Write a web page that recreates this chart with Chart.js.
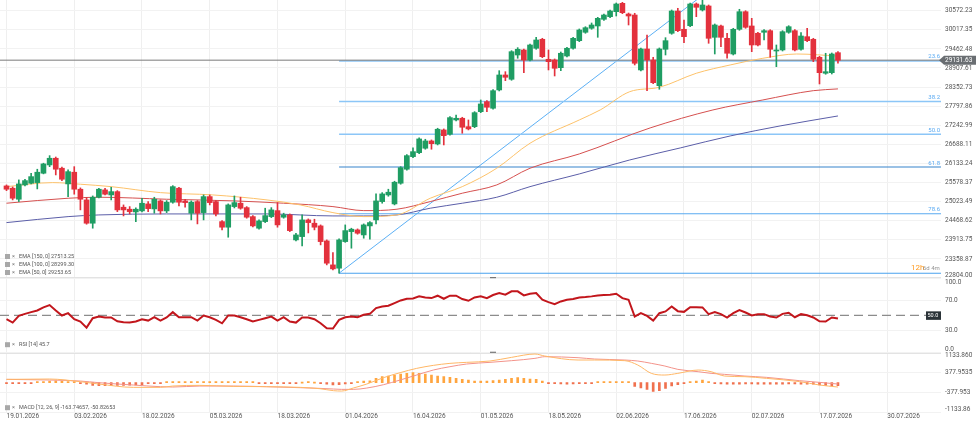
<!DOCTYPE html>
<html>
<head>
<meta charset="utf-8">
<title>Chart</title>
<script src="https://cdn.jsdelivr.net/npm/chart.js@4.4.1/dist/chart.umd.min.js"></script>
<style>
  html, body { margin: 0; padding: 0; background: #fff; }
  #wrap { position: relative; width: 977px; height: 431px; }
</style>
</head>
<body>
<div id="wrap"><canvas id="chart" width="977" height="431"></canvas></div>
<script>
// Date labels and the bar index each one sits on
const dateTicks = ['19.01.2026', '03.02.2026', '18.02.2026', '05.03.2026', '18.03.2026', '01.04.2026', '16.04.2026',
    '01.05.2026', '18.05.2026', '02.06.2026', '17.06.2026', '02.07.2026', '17.07.2026', '30.07.2026'];
const dateTickIdx = [0, 11, 22, 33, 44, 55, 66, 77, 88, 99, 110, 121, 132, 143];

// Axis ticks
const priceTicks = [22804.00, 23358.87, 23913.75, 24468.62, 25023.49, 25578.37, 26133.24, 26688.11,
    27242.99, 27797.86, 28352.73, 28907.61, 29462.48, 30017.35, 30572.23];
const rsiTicks = [0, 30, 70, 100];
const rsiTickLabels = ['0.0', '30.0', '70.0', '100.0'];
const macdTicks = [-1133.86, -377.953, 377.9535, 1133.86];
const macdTickLabels = ['-1133.86', '-377.953', '377.9535', '1133.860'];

// Daily candles (one per trading day, 19.01 -> 22.07)
const open = [25480, 25413, 25093, 25509, 25558, 25576, 25849, 26090, 26284, 25994,
    25538, 25878, 25384, 25073, 24396, 25151, 25364, 25218, 25314, 24861,
    24803, 24724, 24754, 24957, 24812, 25044, 24754, 25006, 25413, 25044,
    24687, 25024, 24704, 25169, 25024, 24443, 24280, 24879, 24977, 24849,
    24588, 24251, 24443, 24588, 24762, 24571, 24637, 23911, 24007, 24492,
    24396, 24318, 23882, 23185, 23089, 23862, 24152, 24202, 24056, 24318,
    24492, 25024, 25218, 24957, 25558, 25965, 26331, 26447, 26575, 26787,
    26700, 27107, 26981, 27397, 27446, 27202, 27202, 27638, 27929, 27737,
    28269, 28704, 28579, 29285, 29431, 29140, 29480, 29741, 29160, 29140,
    28916, 29256, 29480, 29701, 29945, 30061, 30128, 30322, 30398, 30543,
    30787, 30476, 30447, 28850, 29460, 29140, 28393, 29451, 29916, 30563,
    30032, 30136, 30767, 30593, 30709, 29799, 30128, 29770, 29314, 30032,
    30543, 30128, 29916, 29945, 29991, 29401, 29431, 29945, 29991, 29451,
    29817, 29741, 29218, 28754, 28771, 29352];
const high = [25509, 25450, 25655, 25674, 25849, 25965, 26140, 26360, 26320, 26030,
    25945, 26040, 25422, 25140, 25189, 25413, 25413, 25442, 25343, 24928,
    24879, 24840, 25122, 25024, 25151, 25073, 25053, 25488, 25442, 25093,
    25044, 25053, 25218, 25218, 25053, 24472, 24957, 25189, 25151, 24879,
    24617, 24492, 24832, 24849, 24995, 24687, 24666, 24105, 24637, 24521,
    24512, 24347, 23911, 23542, 23940, 24347, 24251, 24231, 24376, 24443,
    25247, 25285, 25384, 25616, 26040, 26389, 26584, 26874, 26836, 26816,
    27156, 27136, 27493, 27542, 27475, 27397, 27638, 27978, 27958, 28277,
    28829, 28800, 29410, 29498, 29460, 29605, 29799, 29770, 29431, 29169,
    29372, 29509, 29799, 30041, 30107, 30215, 30380, 30476, 30593, 30796,
    30816, 30505, 30497, 29489, 29866, 29218, 29489, 29788, 30593, 30642,
    30302, 30796, 30796, 31017, 30738, 30186, 30157, 29916, 30061, 30613,
    30572, 30351, 29945, 30020, 30020, 29576, 29991, 30136, 30020, 29933,
    30061, 29770, 29247, 29335, 29343, 29381];
const low = [25343, 25073, 25024, 25480, 25538, 25393, 25830, 26040, 25799, 25634,
    25169, 25239, 24783, 24367, 24251, 25130, 25218, 25073, 24733, 24608,
    24666, 24443, 24724, 24733, 24687, 24666, 24704, 24977, 24899, 24861,
    24492, 24376, 24492, 24928, 24608, 24202, 23989, 24840, 24803, 24542,
    24289, 24222, 24414, 24559, 24280, 24542, 24152, 23882, 23737, 24114,
    24202, 23766, 23185, 23040, 22944, 23840, 23670, 24077, 23960, 23931,
    24376, 24977, 25180, 24928, 25529, 25936, 26302, 26418, 26546, 26546,
    26671, 26671, 26952, 27368, 27011, 27107, 27173, 27609, 27638, 27708,
    28240, 28539, 28550, 29189, 28771, 29111, 29451, 29207, 28850, 28675,
    28829, 29227, 29451, 29672, 29916, 30032, 29799, 30293, 30369, 30418,
    30485, 30157, 28995, 28820, 28248, 28451, 28289, 29285, 29887, 29962,
    29643, 30107, 30398, 30563, 29625, 29314, 29526, 29189, 29285, 30003,
    30061, 29381, 29547, 29721, 29218, 28945, 29401, 29916, 29401, 29422,
    29672, 29091, 28443, 28725, 28733, 29044];
const close = [25384, 25122, 25538, 25634, 25750, 25878, 26119, 26284, 25965, 25674,
    25895, 25384, 25093, 24396, 25151, 25384, 25239, 25314, 24783, 24783,
    24733, 24803, 24977, 24820, 25093, 24754, 25006, 25459, 25006, 24995,
    25006, 24687, 25169, 24995, 24666, 24280, 24928, 24995, 24832, 24571,
    24318, 24463, 24617, 24783, 24347, 24637, 24181, 24056, 24492, 24414,
    24280, 23862, 23234, 23069, 23911, 24181, 24222, 24105, 24347, 24414,
    25044, 25247, 25297, 25587, 26011, 26360, 26476, 26845, 26787, 26708,
    27127, 26941, 27464, 27446, 27185, 27136, 27609, 27862, 27766, 28248,
    28704, 28637, 29381, 29451, 29140, 29576, 29721, 29236, 29091, 28899,
    29335, 29480, 29770, 30012, 30078, 30157, 30351, 30447, 30563, 30767,
    30514, 30418, 29044, 29460, 29140, 28481, 29460, 29701, 30563, 29991,
    29817, 30767, 30671, 30738, 29770, 30157, 29799, 29335, 30032, 30543,
    30090, 29576, 29576, 29991, 29451, 29431, 29962, 30107, 29431, 29837,
    29701, 29160, 28771, 28800, 29314, 29131.63];

// EMA lines, read at sample bars
const ema50Idx = [0, 7.5, 12, 17, 25, 33.5, 42.3, 47.7, 53, 58, 63.4, 68.8, 74, 79.6, 85, 93, 96.4, 101.2, 106, 112, 117.5, 122.8, 128.3, 135];
const ema50Val = [25459, 25576, 25529, 25459, 25285, 25218, 25073, 24928, 24704, 24588, 24637, 25122, 25459, 25994, 26720, 27397, 27688, 28219, 28347, 28754, 28995, 29189, 29314, 29253.65];
const ema100Idx = [0, 10, 15, 26, 37, 45, 53, 58, 63.4, 68.8, 74, 79.6, 85, 93, 104.5, 114.7, 122.8, 131, 135];
const ema100Val = [24977, 25122, 25151, 25093, 25044, 24977, 24879, 24762, 24803, 25024, 25268, 25509, 25994, 26409, 27165, 27688, 27978, 28248, 28299.30];
const ema150Idx = [0, 10, 15, 26, 42.3, 53, 58, 63.4, 68.8, 74, 79.6, 85, 93, 101.2, 109.4, 117.5, 125.6, 135];
const ema150Val = [24414, 24588, 24637, 24666, 24666, 24608, 24608, 24637, 24832, 24977, 25151, 25459, 25828, 26235, 26584, 26932, 27223, 27513.25];

// Fibonacci retracement anchors
const fibLowIdx = 54, fibHighIdx = 113;
const fibLow = 22944, fibHigh = 31017;
const fibLevels = [23.6, 38.2, 50.0, 61.8, 78.6, 100];
const fibColors = ['#8cc6f7', '#8cc6f7', '#8cc6f7', '#3683cc', '#5aaaf0', '#4aa2ee'];

// RSI 14
const rsi = [44.8, 40.3, 49.3, 52, 54.3, 56.5, 60.6, 63.7, 56.5, 49.8,
    52.9, 44.8, 41.7, 33.6, 46.2, 48.4, 47.1, 47.1, 42.1, 40.8,
    40.3, 41.7, 44.8, 43, 47.5, 43, 47.1, 54.3, 47.5, 47.5,
    47.5, 43, 49.8, 47.5, 43.9, 39.4, 49.8, 49.8, 47.5, 44.8,
    41.7, 43.9, 46.2, 48.4, 43, 47.5, 41.7, 40.3, 47.1, 47.1,
    44.8, 39.4, 32.7, 32.3, 43.9, 47.5, 48.4, 47.5, 50.7, 52,
    59.7, 61.9, 62.8, 66.4, 70, 72.2, 72.7, 75.4, 74, 73.1,
    76.3, 72.2, 76.3, 76.3, 71.8, 69.5, 74, 75.4, 73.1, 77.2,
    79.9, 77.6, 82.1, 82.1, 76.7, 79, 79.9, 70.9, 67.7, 65,
    68.6, 70.9, 71.8, 74, 74.5, 75.4, 76.7, 77.2, 77.6, 79,
    73.1, 70.9, 48.4, 52.9, 49.3, 43, 52.9, 55.2, 61.9, 55.6,
    54.7, 61, 61, 60.6, 51.6, 54.3, 51.6, 47.1, 52.9, 57,
    53.8, 49.8, 51.6, 51.6, 48.4, 47.1, 52, 53.4, 47.5, 51.6,
    50.2, 47.1, 42.1, 41.7, 47.1, 45.7];

// MACD 12/26/9
const macdHist = [-25, -30, -25, -15, -5, 10, 40, 60, 70, 60,
    40, 10, -10, -60, -100, -110, -110, -110, -100, -100,
    -90, -80, -70, -40, -20, -10, 5, 30, 40, 45,
    40, 35, 30, 20, 15, 15, 20, 15, 15, 10,
    10, -10, -10, -15, -10, -10, -10, -5, 0, 5,
    0, -40, -60, -80, -70, -50, -20, 40, 60, 75,
    164, 227, 252, 290, 328, 353, 378, 353, 328, 290,
    252, 227, 202, 164, 126, 100, 63, 63, 63, 76,
    100, 126, 164, 190, 164, 139, 126, 63, -20, -40,
    -50, -60, -50, -40, -30, -20, 20, 30, 35, 38,
    30, 20, -140, -195, -252, -330, -302, -214, -126, -70,
    -25, 38, 63, 100, 40, -20, -50, -60, -60, -55,
    -50, -50, -55, -55, -55, -60, -55, -50, -50, -55,
    -55, -60, -80, -100, -110, -113];
const macdIdx = [0, 7, 12, 15, 20.6, 25, 27, 31.4, 36.8, 42.2, 47.7, 50.9, 53.1, 54.4, 56.3, 58.5, 61.2, 63.9, 66.6, 69.3,
    72, 74.7, 78.5, 82, 85.8, 87.4, 92.8, 95.5, 100.4, 102.5, 104.7, 106.9, 109, 112.3, 114.4, 116.6, 119.9, 123.4, 128.8, 132, 135];
const macdVal = [126, 139, 38, -50, -176, -176, -126, -100, -139, -151, -176, -227, -302, -315, -202, -50, 189, 378, 542, 655,
    731, 769, 819, 958, 1084, 1008, 857, 857, 832, 668, 353, 290, 353, 479, 416, 252, 227, 164, 40, -88, -163.75];
const signalVal = [126, 101, 63, 0, -88, -151, -164, -126, -126, -151, -189, -214, -239, -252, -252, -202, -76, 101, 290, 479,
    605, 706, 769, 832, 920, 983, 945, 895, 857, 819, 731, 630, 504, 416, 353, 315, 252, 202, 76, 13, -50.83];

// x range of the plot, in bar units
const xMin = -1.055, xMax = 151.73;

const upColor = '#1f9d63';
const downColor = '#e3313d';
const font = 'Roboto, "Liberation Sans", sans-serif';
const lastPrice = close[close.length - 1];

function pts(xs, ys) {
    return xs.map((x, i) => ({ x: x, y: ys[i] }));
}

const bars = close.map((c, i) => i);
const candleColors = bars.map(i => close[i] >= open[i] ? upColor : downColor);

// Flat horizontal segment helper
function hline(x0, x1, v) {
    return [{ x: x0, y: v }, { x: x1, y: v }];
}

const fibDatasets = fibLevels.map((lvl, k) => ({
    type: 'line',
    data: hline(fibLowIdx, xMax, fibHigh - (fibHigh - fibLow) * lvl / 100),
    borderColor: fibColors[k],
    borderWidth: k < 3 ? 1.6 : 1.1,
    pointRadius: 0,
    yAxisID: 'y',
    order: 6
}));

// Labels drawn outside the library's ticks: clamped edge labels, tags, legends
const overlay = {
    id: 'overlay',
    afterDraw(chart) {
        const ctx = chart.ctx;
        const area = chart.chartArea;
        const y = chart.scales.y, yRsi = chart.scales.yRsi, yMacd = chart.scales.yMacd;
        const lx = area.right + 4;
        ctx.save();
        ctx.textBaseline = 'middle';
        ctx.textAlign = 'left';
        ctx.font = '6.5px ' + font;
        ctx.fillStyle = '#555';
        ctx.fillText(priceTicks[0].toFixed(2), lx, y.bottom - 3);
        ctx.fillText(rsiTickLabels[3], lx, yRsi.top + 4.5);
        ctx.fillText(rsiTickLabels[0], lx, yRsi.bottom - 3.5);
        ctx.fillText(macdTickLabels[3], lx, yMacd.top + 2.5);
        ctx.fillText(macdTickLabels[0], lx, yMacd.bottom - 3);

        // fib level labels
        ctx.font = '6px ' + font;
        ctx.textAlign = 'right';
        fibLevels.slice(0, 5).forEach((lvl, k) => {
            const py = y.getPixelForValue(fibHigh - (fibHigh - fibLow) * lvl / 100);
            ctx.fillStyle = '#5aaaf2';
            ctx.fillText(lvl.toFixed(1), area.right - 1, py - 4);
        });
        const lowPx = y.getPixelForValue(fibLow);
        ctx.font = '8px ' + font;
        ctx.fillStyle = '#ff9a1f';
        ctx.textAlign = 'left';
        ctx.fillText('12h', area.right - 30, lowPx - 5);
        ctx.font = '6px ' + font;
        ctx.fillStyle = 'rgba(120,120,120,0.8)';
        ctx.fillText('6d 4m', area.right - 18, lowPx - 5);

        // last price tag
        const py = y.getPixelForValue(lastPrice);
        ctx.fillStyle = '#6a6e72';
        ctx.beginPath();
        ctx.moveTo(area.right - 2, py);
        ctx.lineTo(area.right + 3, py - 4.5);
        ctx.lineTo(area.right + 35, py - 4.5);
        ctx.lineTo(area.right + 35, py + 4.5);
        ctx.lineTo(area.right + 3, py + 4.5);
        ctx.closePath();
        ctx.fill();
        ctx.fillStyle = '#fff';
        ctx.font = '6.5px ' + font;
        ctx.fillText(lastPrice.toFixed(2), area.right + 4, py + 0.5);

        // RSI 50 tag
        const ry = yRsi.getPixelForValue(50);
        ctx.fillStyle = '#2b3338';
        ctx.fillRect(area.right - 15, ry - 4, 15, 8.5);
        ctx.fillStyle = '#fff';
        ctx.font = '5.5px ' + font;
        ctx.fillText('50.0', area.right - 13.5, ry + 0.5);

        // indicator legends
        const legends = [
            ['EMA [150, 0] ' + ema150Val[ema150Val.length - 1].toFixed(2), y.bottom - 21.5],
            ['EMA [100, 0] ' + ema100Val[ema100Val.length - 1].toFixed(2), y.bottom - 13.5],
            ['EMA [50, 0] ' + ema50Val[ema50Val.length - 1].toFixed(2), y.bottom - 5.5],
            ['RSI [14] ' + rsi[rsi.length - 1].toFixed(1), yRsi.bottom - 8],
            ['MACD [12, 26, 9] -163.74657, -50.82653', yMacd.bottom - 5]
        ];
        ctx.font = '5.5px ' + font;
        legends.forEach(([txt, ly]) => {
            ctx.fillStyle = '#a8a8a8';
            ctx.fillRect(5, ly - 2.5, 5, 5);
            ctx.fillStyle = '#777';
            ctx.fillText('\u00d7', 12, ly);
            ctx.fillStyle = '#555';
            ctx.fillText(txt, 19, ly);
        });

        // pane resize handles
        ctx.fillStyle = '#777';
        ctx.fillRect(490, y.bottom - 1, 6, 1.2);
        ctx.fillRect(490, yRsi.bottom - 1, 6, 1.2);
        ctx.restore();
    }
};

// Right axes: fixed width, no extra label padding at the pane edges
function fixWidth(scale) {
    scale.width = 36;
    scale.paddingTop = 0;
    scale.paddingBottom = 0;
}

new Chart(document.getElementById('chart'), {
    type: 'bar',
    data: {
        datasets: [
            {
                data: bars.map(i => ({ x: i, y: [open[i], close[i]] })),
                backgroundColor: candleColors,
                barThickness: 5,
                minBarLength: 1,
                grouped: false,
                yAxisID: 'y',
                order: 0
            },
            {
                data: bars.map(i => ({ x: i, y: [low[i], high[i]] })),
                backgroundColor: candleColors,
                barThickness: 1,
                grouped: false,
                yAxisID: 'y',
                order: 1
            },
            { type: 'line', data: pts(ema50Idx, ema50Val), borderColor: '#fdc26a', borderWidth: 1, pointRadius: 0, cubicInterpolationMode: 'monotone', yAxisID: 'y', order: 2 },
            { type: 'line', data: pts(ema100Idx, ema100Val), borderColor: '#d5504f', borderWidth: 1, pointRadius: 0, cubicInterpolationMode: 'monotone', yAxisID: 'y', order: 3 },
            { type: 'line', data: pts(ema150Idx, ema150Val), borderColor: '#5b5ea8', borderWidth: 1, pointRadius: 0, cubicInterpolationMode: 'monotone', yAxisID: 'y', order: 4 },
            { type: 'line', data: hline(xMin, xMax, lastPrice), borderColor: 'rgba(130,130,130,0.7)', borderWidth: 1.5, pointRadius: 0, yAxisID: 'y', order: 5 },
            ...fibDatasets,
            { type: 'line', data: [{ x: fibLowIdx, y: fibLow }, { x: fibHighIdx, y: fibHigh }], borderColor: '#5cb0f5', borderWidth: 1, pointRadius: 0, yAxisID: 'y', order: 7 },

            { type: 'line', data: bars.map(i => ({ x: i, y: rsi[i] })), borderColor: '#c2161c', borderWidth: 2, pointRadius: 0, yAxisID: 'yRsi', order: 0 },
            { type: 'line', data: hline(xMin, xMax, 50), borderColor: '#8c8c8c', borderWidth: 1.3, borderDash: [9, 5], pointRadius: 0, yAxisID: 'yRsi', order: 1 },

            {
                data: bars.map(i => ({ x: i, y: macdHist[i] })),
                backgroundColor: bars.map(i => macdHist[i] >= 0 ? '#ffa53f' : '#f0714e'),
                barThickness: 2,
                minBarLength: 1,
                grouped: false,
                yAxisID: 'yMacd',
                order: 3
            },
            { type: 'line', data: pts(macdIdx, macdVal), borderColor: '#ffb766', borderWidth: 1, pointRadius: 0, cubicInterpolationMode: 'monotone', yAxisID: 'yMacd', order: 1 },
            { type: 'line', data: pts(macdIdx, signalVal), borderColor: '#f3938a', borderWidth: 1, pointRadius: 0, cubicInterpolationMode: 'monotone', yAxisID: 'yMacd', order: 2 }
        ]
    },
    options: {
        responsive: false,
        animation: false,
        devicePixelRatio: 1,
        layout: { padding: 0 },
        plugins: { legend: { display: false }, tooltip: { enabled: false } },
        scales: {
            x: {
                type: 'linear',
                position: 'bottom',
                min: xMin,
                max: xMax,
                offset: false,
                grid: { color: '#efefef', offset: false, drawTicks: false },
                border: { display: false },
                afterBuildTicks: s => { s.ticks = dateTickIdx.map(v => ({ value: v })); },
                afterFit: s => { s.height = 18.3; s.paddingLeft = 0; s.paddingRight = 0; },
                ticks: {
                    autoSkip: false,
                    maxRotation: 0,
                    align: 'start',
                    padding: 0,
                    color: '#555',
                    font: { family: font, size: 6.5 },
                    callback: (v, i) => dateTicks[i]
                }
            },
            y: {
                type: 'linear',
                position: 'right',
                stack: 'panes',
                stackWeight: 278,
                min: 22804,
                max: 30883,
                grid: {
                    drawTicks: false,
                    color: c => c.tick && c.tick.value === priceTicks[0] ? '#e3e3e3' : '#f2f2f2',
                    lineWidth: c => c.tick && c.tick.value === priceTicks[0] ? 2 : 1
                },
                border: { display: false },
                afterBuildTicks: s => { s.ticks = priceTicks.map(v => ({ value: v })); },
                afterFit: fixWidth,
                ticks: {
                    autoSkip: false,
                    padding: 4,
                    color: '#555',
                    font: { family: font, size: 6.5 },
                    callback: (v, i) => i === 0 ? '' : priceTicks[i].toFixed(2)
                }
            },
            yRsi: {
                type: 'linear',
                position: 'right',
                stack: 'panes',
                stackWeight: 74.7,
                min: 0,
                max: 100,
                grid: {
                    drawTicks: false,
                    color: c => c.tick && (c.tick.value === 0) ? '#e3e3e3' : '#f2f2f2',
                    lineWidth: c => c.tick && (c.tick.value === 0) ? 2 : 1
                },
                border: { display: false },
                afterBuildTicks: s => { s.ticks = rsiTicks.map(v => ({ value: v })); },
                afterFit: fixWidth,
                ticks: {
                    autoSkip: false,
                    padding: 4,
                    color: '#555',
                    font: { family: font, size: 6.5 },
                    callback: (v, i) => (i === 0 || i === rsiTicks.length - 1) ? '' : rsiTickLabels[i]
                }
            },
            yMacd: {
                type: 'linear',
                position: 'right',
                stack: 'panes',
                stackWeight: 60,
                min: macdTicks[0],
                max: macdTicks[macdTicks.length - 1],
                grid: { drawTicks: false, color: '#f2f2f2' },
                border: { display: false },
                afterBuildTicks: s => { s.ticks = macdTicks.map(v => ({ value: v })); },
                afterFit: fixWidth,
                ticks: {
                    autoSkip: false,
                    padding: 4,
                    color: '#555',
                    font: { family: font, size: 6.5 },
                    callback: (v, i) => (i === 0 || i === macdTicks.length - 1) ? '' : macdTickLabels[i]
                }
            }
        }
    },
    plugins: [overlay]
});
</script>
</body>
</html>
